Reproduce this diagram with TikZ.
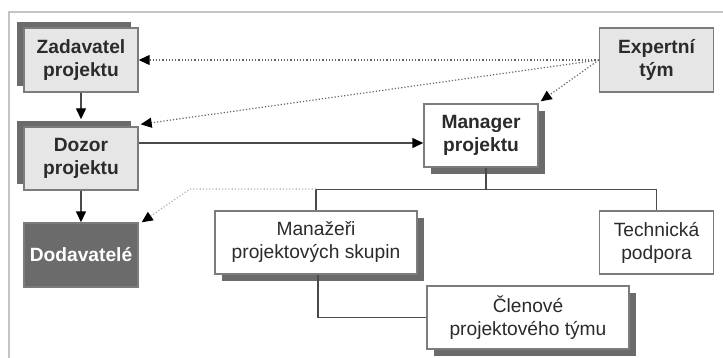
\documentclass[tikz,border=0pt]{standalone}
\usepackage{fontspec}
\setmainfont{Liberation Sans}
\usepackage{tikz}
\usetikzlibrary{arrows.meta, positioning, shadows}
\definecolor{BoxLine}{HTML}{7C7C7C}
\definecolor{BoxFill}{HTML}{E6E6E6}
\definecolor{BoxShade}{HTML}{6B6B6B}
\definecolor{LinkInk}{HTML}{4A4A4A}
\definecolor{TextInk}{HTML}{2B2B2B}
\definecolor{FrameInk}{HTML}{C4C4C4}

\begin{document}
\begin{tikzpicture}[
    x=0.5pt, y=-0.5pt,
    font=\fontsize{9.6}{11.5}\selectfont,
    box/.style={
      draw=BoxLine,
      line width=0.7pt,
      fill=white,
      align=center,
      text=TextInk,
      inner sep=2pt,
      minimum width=57pt,
      minimum height=32pt,
    },
    widebox/.style={box, minimum width=101pt, minimum height=31.5pt},
    grey/.style={fill=BoxFill, font=\fontsize{9.6}{11.5}\selectfont\bfseries},
    shadeleft/.style={drop shadow={shadow xshift=-3.5pt, shadow yshift=3pt,
        fill=BoxShade, opacity=1}},
    shaderight/.style={drop shadow={shadow xshift=3.5pt, shadow yshift=-3.5pt,
        fill=BoxShade, opacity=1}},
    link/.style={draw=LinkInk, line width=0.7pt},
    arr/.style={link, -{Triangle[length=5.5pt, width=5pt, color=black]}},
    hint/.style={draw=LinkInk!85, line width=0.6pt, densely dotted,
        -{Triangle[length=5.5pt, width=5pt, color=black]}},
    faint/.style={hint, draw=BoxLine!60},
  ]
    \useasboundingbox (0,0) rectangle (723,358);
    \draw[FrameInk, line width=1pt] (9,358) -- (9,12) -- (723,12);

    % left column
    \node[box, grey, shadeleft] (zad) at (81,60) {Zadavatel\\projektu};
    \node[box, grey, shadeleft, minimum height=31.5pt] (doz) at (81,158.5) {Dozor\\projektu};
    \node[box, fill=BoxShade, text=white, font=\fontsize{9.6}{11.5}\selectfont\bfseries]
      (dod) at (81,255) {Dodavatelé};

    % right part
    \node[box, grey] (exp) at (656.5,60) {Expertní\\tým};
    \node[box, shaderight, font=\fontsize{9.6}{11.5}\selectfont\bfseries,
      minimum height=31.5pt] (man) at (481,135.5) {Manager\\projektu};
    \node[widebox, shaderight] (mgr) at (316,242.5) {Manažeři\\projektových skupin};
    \node[box, minimum height=31.5pt] (tech) at (656.5,242.5) {Technická\\podpora};
    \node[widebox, shaderight] (cle) at (528,317.5) {Členové\\projektového týmu};

    \coordinate (busw) at (316,189);
    \coordinate (bend) at (190,189);

    \draw[arr] (zad.south) -- ([yshift=3.5pt]doz.north);
    \draw[arr] (doz.south) -- (dod.north);
    \draw[arr] (doz.east |- 0,143) -- (man.west |- 0,143);

    \draw[hint] (exp.west) -- (zad.east);
    \draw[hint] (exp.west) -- ([xshift=1pt,yshift=1pt]doz.north east);
    \draw[hint] (exp.west) -- ([xshift=1pt,yshift=1pt]man.north east);

    \draw[link] ([xshift=2.5pt]man.south) -- ++(0,22) -| (mgr.north);
    \draw[link] ([xshift=2.5pt]man.south) -- ++(0,22) -| (tech.north);
    \draw[link] ([xshift=1pt]mgr.south) |- (cle.west);
    \draw[faint] (busw) -- (bend) -- ([xshift=1.5pt]dod.north east);
  \end{tikzpicture}
\end{document}
